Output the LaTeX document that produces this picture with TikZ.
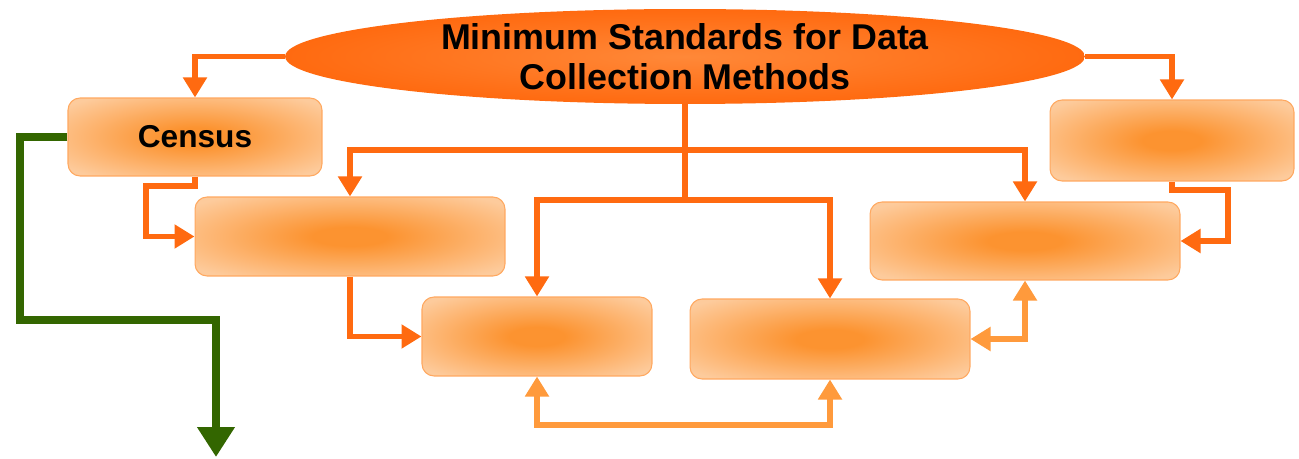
\documentclass[tikz,border=0pt]{standalone}
\usepackage{fontspec}
\setmainfont{Liberation Sans}
\usetikzlibrary{arrows.meta,shapes.geometric}
\definecolor{ornline}{HTML}{FF6A10}
\definecolor{ornlight}{HTML}{FF9A3C}
\definecolor{ornmid}{HTML}{FF8838}
\definecolor{boxedge}{HTML}{FDCB9C}
\definecolor{boxmid}{HTML}{FC9330}
\definecolor{boxdraw}{HTML}{FFA860}
\definecolor{arrgreen}{HTML}{336600}
\pgfdeclareradialshading{boxfade}{\pgfpoint{0bp}{0bp}}{color(0bp)=(boxmid); color(6bp)=(boxmid); color(32bp)=(boxedge); color(50bp)=(boxedge)}

\begin{document}
\begin{tikzpicture}[x=0.02cm, y=-0.02cm,
    box/.style={draw=boxdraw, line width=0.6pt, rounded corners=0.24cm,
        shading=boxfade,
        font=\bfseries\fontsize{18}{20}\selectfont},
    hub/.style={ellipse, inner sep=0pt, shading=radial, inner color=ornmid,
        outer color=ornline, align=center,
        font=\bfseries\fontsize{20.4}{22.7}\selectfont},
    link/.style={draw=ornline, line width=0.11cm,
        -{Triangle[length=0.4cm,width=0.46cm]}},
    back/.style={draw=ornlight, line width=0.11cm,
        {Triangle[length=0.4cm,width=0.46cm]}-{Triangle[length=0.4cm,width=0.46cm]}},
    ]
\useasboundingbox (0,0) rectangle (1299,459);

% main ellipse and the six method boxes
\node[hub, minimum width=16cm, minimum height=1.9cm] (std) at (685,56.5)
    {Minimum Standards for Data\\Collection Methods};
\node[box, minimum width=5.08cm, minimum height=1.56cm] (census) at (195,137) {Census};
\node[box, minimum width=6.2cm, minimum height=1.58cm] (mB) at (350,236.5) {};
\node[box, minimum width=4.6cm, minimum height=1.58cm] (mC) at (537,336.5) {};
\node[box, minimum width=5.6cm, minimum height=1.6cm] (mD) at (830,339) {};
\node[box, minimum width=6.2cm, minimum height=1.56cm] (mE) at (1025,241) {};
\node[box, minimum width=4.88cm, minimum height=1.62cm] (mF) at (1172,140.5) {};

\coordinate (j1) at (685,150);
\coordinate (j2) at (685,200);
\coordinate (cb) at (146,186);
\coordinate (fe) at (1228,190);
\coordinate (cd) at (537,425);
\coordinate (g1) at (20,320);
\coordinate (gend) at (216,457);

% from the ellipse
\draw[link] (std.west) -| (census.north);
\draw[link] (std.east) -| (mF.north);
\draw[draw=ornline, line width=0.11cm] (std.south) -- (j2);
\draw[link] (j1) -| (mB.north);
\draw[link] (j1) -| (mE.north);
\draw[link] (j2) -| (mC.north);
\draw[link] (j2) -| (mD.north);

% between boxes
\draw[link] (census.south) |- (cb) |- (mB.west);
\draw[link] (mB.south) |- (mC.west);
\draw[link] (mF.south) |- (fe) |- (mE.east);
\draw[back] (mD.east) -| (mE.south);
\draw[back] (mC.south) -- (cd) -| (mD.south);

% green exit
\draw[draw=arrgreen, line width=0.16cm, -{Triangle[length=0.6cm,width=0.72cm]}]
    (census.west) -| (g1) -| (gend);

\end{tikzpicture}
\end{document}
